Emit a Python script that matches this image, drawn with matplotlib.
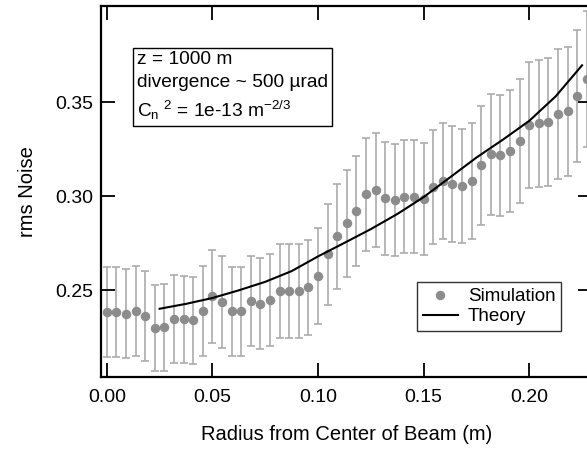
import matplotlib
matplotlib.use("Agg")
import matplotlib.pyplot as plt
import numpy as np

# simulation: 51 radial samples
n_points = 51
radius_step = 0.05 / 11
sim_noise = [0.2385, 0.2385, 0.2376, 0.2388, 0.2364, 0.2300, 0.2303, 0.2346, 0.2345, 0.2340,
             0.2390, 0.2468, 0.2436, 0.2388, 0.2388, 0.2443, 0.2429, 0.2449, 0.2495, 0.2495,
             0.2495, 0.2516, 0.2578, 0.2691, 0.2787, 0.2855, 0.2920, 0.3011, 0.3032, 0.2988,
             0.2979, 0.2996, 0.2998, 0.2984, 0.3050, 0.3080, 0.3064, 0.3055, 0.3080, 0.3165,
             0.3223, 0.3218, 0.3241, 0.3294, 0.3378, 0.3387, 0.3395, 0.3436, 0.3450, 0.3534,
             0.3621]
sim_err = [0.0237, 0.0238, 0.0238, 0.0239, 0.0237, 0.0229, 0.0230, 0.0233, 0.0233, 0.0232,
           0.0237, 0.0247, 0.0245, 0.0238, 0.0238, 0.0241, 0.0241, 0.0245, 0.0250, 0.0250,
           0.0250, 0.0251, 0.0255, 0.0269, 0.0278, 0.0285, 0.0291, 0.0300, 0.0302, 0.0298,
           0.0298, 0.0300, 0.0298, 0.0297, 0.0302, 0.0308, 0.0308, 0.0303, 0.0306, 0.0316,
           0.0321, 0.0321, 0.0323, 0.0328, 0.0337, 0.0337, 0.0339, 0.0344, 0.0344, 0.0351,
           0.0360]

theory_r = [0.025, 0.0375, 0.05, 0.0625, 0.075, 0.0875, 0.1, 0.1125, 0.125, 0.1375,
            0.15, 0.1625, 0.175, 0.1875, 0.2, 0.2125, 0.225]
theory_noise = [0.2402, 0.2428, 0.2459, 0.2500, 0.2545, 0.2602, 0.2680, 0.2752, 0.2825, 0.2905,
                0.2995, 0.3100, 0.3205, 0.3300, 0.3400, 0.3530, 0.3695]

plt.rcParams['font.family'] = ['Liberation Sans', 'DejaVu Sans']
plt.rcParams['mathtext.default'] = 'regular'

sim_r = np.arange(n_points) * radius_step

fig = plt.figure(figsize=(5.87, 4.51), dpi=100)
ax = fig.add_axes([0.1729, 0.163, 0.8356, 0.8237])

ax.errorbar(sim_r, sim_noise, yerr=sim_err, fmt='none', ecolor='#ababab',
            elinewidth=1.2, capsize=3, capthick=1.2, zorder=1)
ax.plot(sim_r, sim_noise, 'o', color='#8c8c8c', markersize=5.8, label='Simulation', zorder=2)
ax.plot(theory_r, theory_noise, '-', color='black', linewidth=1.5, label='Theory', zorder=3)

ax.set_xlim(-0.0025, 0.2297)
ax.set_ylim(0.2037, 0.401)
ax.set_xticks([0.0, 0.05, 0.10, 0.15, 0.20])
ax.set_xticklabels(['0.00', '0.05', '0.10', '0.15', '0.20'])
ax.set_yticks([0.25, 0.30, 0.35])
ax.set_yticklabels(['0.25', '0.30', '0.35'])
ax.tick_params(direction='in', length=10, width=1.3, top=True, right=True, labelsize=14)
ax.tick_params(axis='x', pad=8)
ax.tick_params(axis='y', pad=6)

for side in ax.spines.values():
    side.set_linewidth(1.6)

ax.set_xlabel('Radius from Center of Beam (m)', fontsize=14.5, labelpad=14)
ax.set_ylabel('rms Noise', fontsize=14.5, labelpad=13)

ax.text(0.072, 0.878,
        'z = 1000 m\ndivergence ~ 500 \u00b5rad\nC$_n$$^{\\ 2}$ = 1e-13 m$^{-2/3}$',
        transform=ax.transAxes, fontsize=13.8, va='top', ha='left', linespacing=1.45,
        bbox=dict(boxstyle='square,pad=0.2', facecolor='white', edgecolor='black', linewidth=1))

leg = ax.legend(loc='lower left', bbox_to_anchor=(0.643, 0.125), fontsize=13.6,
                frameon=True, fancybox=False, edgecolor='black', borderaxespad=0,
                handlelength=1.9, handletextpad=0.5, borderpad=0.3, labelspacing=0.15)
leg.get_frame().set_linewidth(1)

fig.savefig('out.png', dpi=100)
